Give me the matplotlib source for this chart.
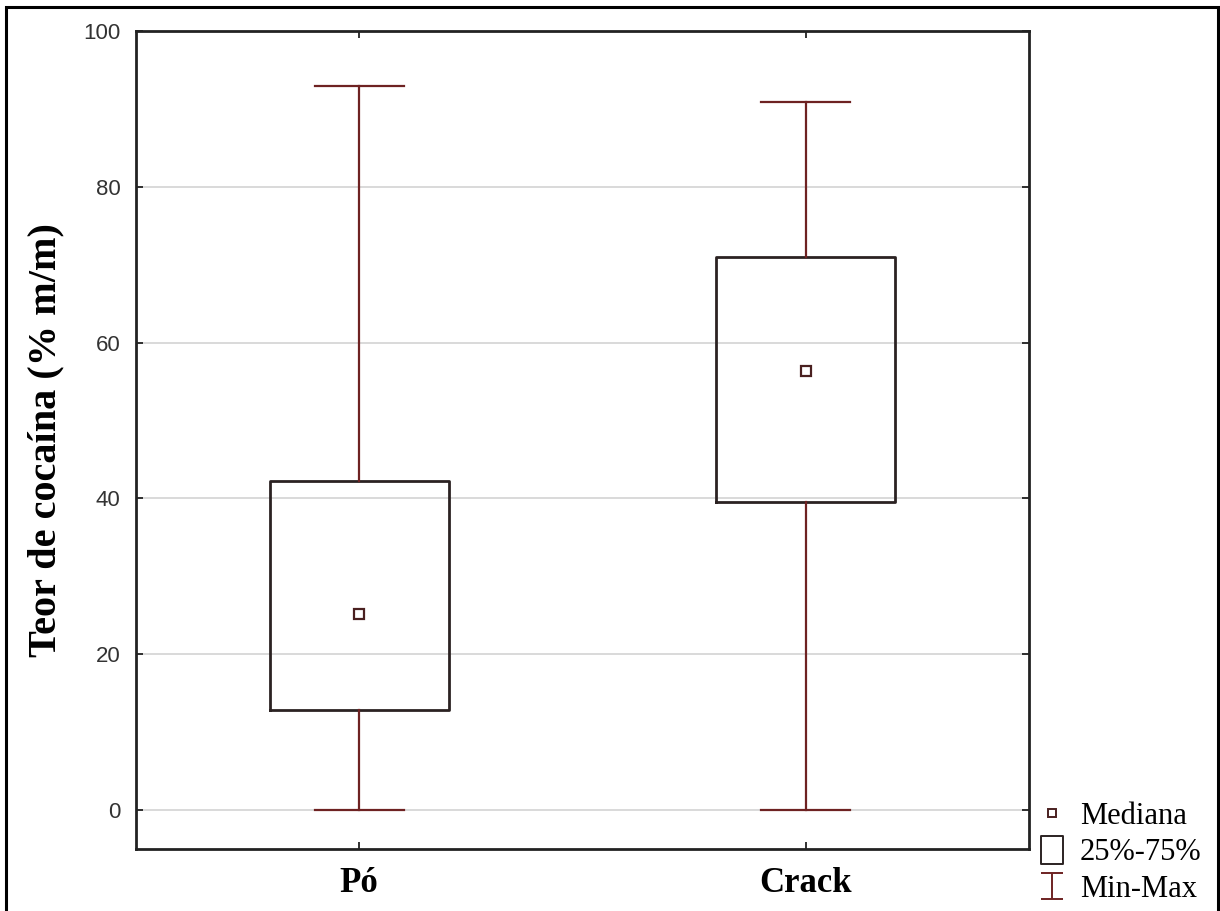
import numpy as np
import matplotlib
matplotlib.use('Agg')
import matplotlib.pyplot as plt
from matplotlib.lines import Line2D
from matplotlib.patches import Rectangle
from matplotlib.path import Path

# Datos (teor de cocaina, % m/m)
grupos = ['Pó', 'Crack']
minimos = [0.0, 0.0]
q1 = [12.9, 39.5]
medianas = [25.2, 56.4]
q3 = [42.2, 71.0]
maximos = [92.9, 90.9]
yticks = [0, 20, 40, 60, 80, 100]

cor_bigode = '#6e2222'
cor_caixa = '#2b2222'
cor_mediana = '#4a2020'

fig = plt.figure(figsize=(12.2, 9.11), dpi=100)
ax = fig.add_axes([136/1220, 1 - 849/911, (1029-136)/1220, (849-31)/911])

pos = np.arange(len(grupos))
stats = [dict(med=m, q1=a, q3=b, whislo=lo, whishi=hi, fliers=[])
         for m, a, b, lo, hi in zip(medianas, q1, q3, minimos, maximos)]
ax.bxp(stats, positions=pos, widths=0.40, showfliers=False,
       boxprops=dict(color=cor_caixa, linewidth=2.0),
       whiskerprops=dict(color=cor_bigode, linewidth=1.6),
       capprops=dict(color=cor_bigode, linewidth=1.6),
       medianprops=dict(visible=False), capwidths=0.2, zorder=3)
ax.plot(pos, medianas, 's', ms=7, mfc='white', mec=cor_mediana, mew=1.6, ls='none', zorder=4)

ax.set_xlim(-0.5, 1.5)
ax.set_ylim(-5, 100)
ax.set_yticks(yticks)
ax.set_xticks(pos)
ax.set_xticklabels(grupos, fontsize=25, fontweight='bold', family='Liberation Serif')
for lb in ax.get_yticklabels():
    lb.set_fontsize(16); lb.set_family('Liberation Sans'); lb.set_color('#333333')
ax.tick_params(axis='y', direction='in', length=5, width=1.3, pad=11, right=True, color='#222222')
ax.tick_params(axis='x', direction='in', length=5, width=1.3, pad=13, top=True, color='#222222')
ax.grid(axis='y', color='#cfcfcf', linewidth=1.1, zorder=0)
ax.set_axisbelow(True)
for s in ax.spines.values():
    s.set_linewidth(2.0); s.set_color('#222222')

ax.set_ylabel('Teor de cocaína (% m/m)', fontsize=29, fontweight='bold', family='Liberation Serif')
ax.yaxis.set_label_coords(-0.08, 0.50)

# legenda
ibeam = Path([(-0.85, -1), (0.85, -1), (0, -1), (0, 1), (-0.85, 1), (0.85, 1)],
             [Path.MOVETO, Path.LINETO, Path.MOVETO, Path.LINETO, Path.MOVETO, Path.LINETO])
caixa = Path([(-0.41, -0.5), (0.41, -0.5), (0.41, 0.5), (-0.41, 0.5), (-0.41, -0.5)],
             [Path.MOVETO, Path.LINETO, Path.LINETO, Path.LINETO, Path.CLOSEPOLY])
handles = [Line2D([], [], marker='s', ms=6, mfc='white', mec=cor_mediana, mew=1.4, ls='none'),
           Line2D([], [], marker=caixa, ms=20, mfc='white', mec=cor_caixa, mew=1.4, ls='none'),
           Line2D([], [], marker=ibeam, ms=19, mfc='none', mec=cor_bigode, mew=1.4, ls='none')]
ax.legend(handles, ['Mediana', '25%-75%', 'Min-Max'], loc='lower left',
          bbox_to_anchor=(1034/1220, 1 - 904/911), bbox_transform=fig.transFigure,
          frameon=False, handlelength=1.2, handletextpad=0.3, labelspacing=0.25,
          borderpad=0, borderaxespad=0,
          prop=dict(family='Liberation Serif', size=22))

# moldura externa
fig.patches.append(Rectangle((6/1220, -0.05), (1218-6)/1220, 1.05 - 7/911,
                             transform=fig.transFigure, fill=False, lw=2.2, ec='black'))

fig.savefig('out.png', dpi=100)
